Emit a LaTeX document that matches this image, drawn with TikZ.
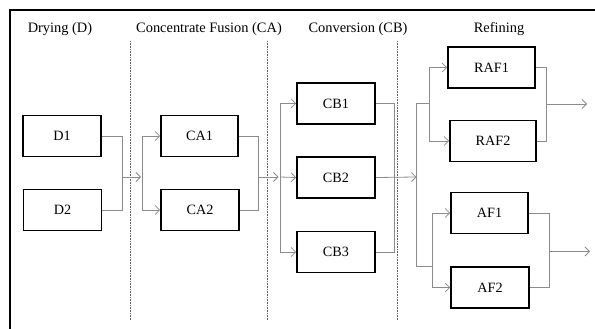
\documentclass[tikz,border=0pt]{standalone}
\usepackage{fontspec}
\setmainfont{Liberation Serif}
\usetikzlibrary{arrows.meta}
\begin{document}
\begin{tikzpicture}[x=1pt,y=-1pt,
  stage/.style={draw=black,line width=1.7pt,minimum height=41pt,inner sep=0pt,font=\fontsize{14.2}{16}\selectfont},
  head/.style={anchor=base,inner sep=0pt,font=\fontsize{14.4}{16}\selectfont},
  wire/.style={draw=black!45,line width=0.8pt},
  arr/.style={wire,-{Straight Barb[length=4.5pt,width=9pt,line width=0.8pt]}},
  sep/.style={draw=black!60,line width=0.9pt,dash pattern=on 0.8pt off 0.8pt}]
\useasboundingbox (0,0) rectangle (595,329);
% frame
\draw[line width=1.6pt] (10,329) -- (10,10) -- (595,10);
% headers
\node[head] (hD) at (60,33) {Drying (D)};
\node[head] (hCA) at (209,33) {Concentrate Fusion (CA)};
\node[head] (hCB) at (358,33) {Conversion (CB)};
\node[head] (hR) at (499,33) {Refining};
% separators
\draw[sep] (130.7,41) -- (130.7,320);
\draw[sep] (267.7,41) -- (267.7,320);
\draw[sep] (397.7,41) -- (397.7,320);
% boxes
\node[stage,minimum width=78pt] (D1) at (62,136) {D1};
\node[stage,minimum width=78pt] (D2) at (62.5,210) {D2};
\node[stage,minimum width=77pt] (CA1) at (199.5,136) {CA1};
\node[stage,minimum width=78pt] (CA2) at (200,210) {CA2};
\node[stage,minimum width=78pt] (CB1) at (336,103.5) {CB1};
\node[stage,minimum width=78pt] (CB2) at (336,177.5) {CB2};
\node[stage,minimum width=78pt] (CB3) at (336,252) {CB3};
\node[stage,minimum width=87pt] (RAF1) at (491.5,67.5) {RAF1};
\node[stage,minimum width=86pt] (RAF2) at (493,141) {RAF2};
\node[stage,minimum width=77pt] (AF1) at (489.5,213) {AF1};
\node[stage,minimum width=78pt] (AF2) at (490,287.5) {AF2};
% junction coordinates
\coordinate (j1) at (122,177);
\coordinate (f1) at (142,177);
\coordinate (j2) at (258,177);
\coordinate (f2) at (280,177);
\coordinate (j3) at (394,177);
\coordinate (f3) at (416.5,177);
\coordinate (r3) at (416.5,103);
\coordinate (a3) at (416.5,266.5);
\coordinate (rs) at (429,103);
\coordinate (as) at (432,266.5);
\coordinate (j4) at (546,104);
\coordinate (o1) at (587,104);
\coordinate (j5) at (549,251.5);
\coordinate (o2) at (590,251.5);
% drying -> CA
\draw[wire] (D1.east) -| (j1);
\draw[wire] (D2.east) -| (j1);
\draw[arr] (j1) -- ([xshift=-1pt]f1);
\draw[arr] (f1) |- (CA1.west);
\draw[arr] (f1) |- (CA2.west);
% CA -> CB
\draw[wire] (CA1.east) -| (j2);
\draw[wire] (CA2.east) -| (j2);
\draw[arr] (j2) -- ([xshift=-1.5pt]f2);
\draw[arr] (f2) |- (CB1.west);
\draw[arr] (f2) -- (CB2.west);
\draw[arr] (f2) |- (CB3.west);
% CB -> refining
\draw[wire] (CB1.east) -| (j3);
\draw[wire] (CB3.east) -| (j3);
\draw[arr] (CB2.east) -- (f3);
\draw[wire] (rs) -- (r3) -- (a3) -- (as);
\draw[arr] (rs) |- (RAF1.west);
\draw[arr] (rs) |- (RAF2.west);
\draw[arr] (as) |- (AF1.west);
\draw[arr] (as) |- (AF2.west);
% outputs
\draw[wire] (RAF1.east) -| (j4);
\draw[wire] (RAF2.east) -| (j4);
\draw[arr] (j4) -- (o1);
\draw[wire] (AF1.east) -| (j5);
\draw[wire] (AF2.east) -| (j5);
\draw[arr] (j5) -- (o2);
\end{tikzpicture}
\end{document}
